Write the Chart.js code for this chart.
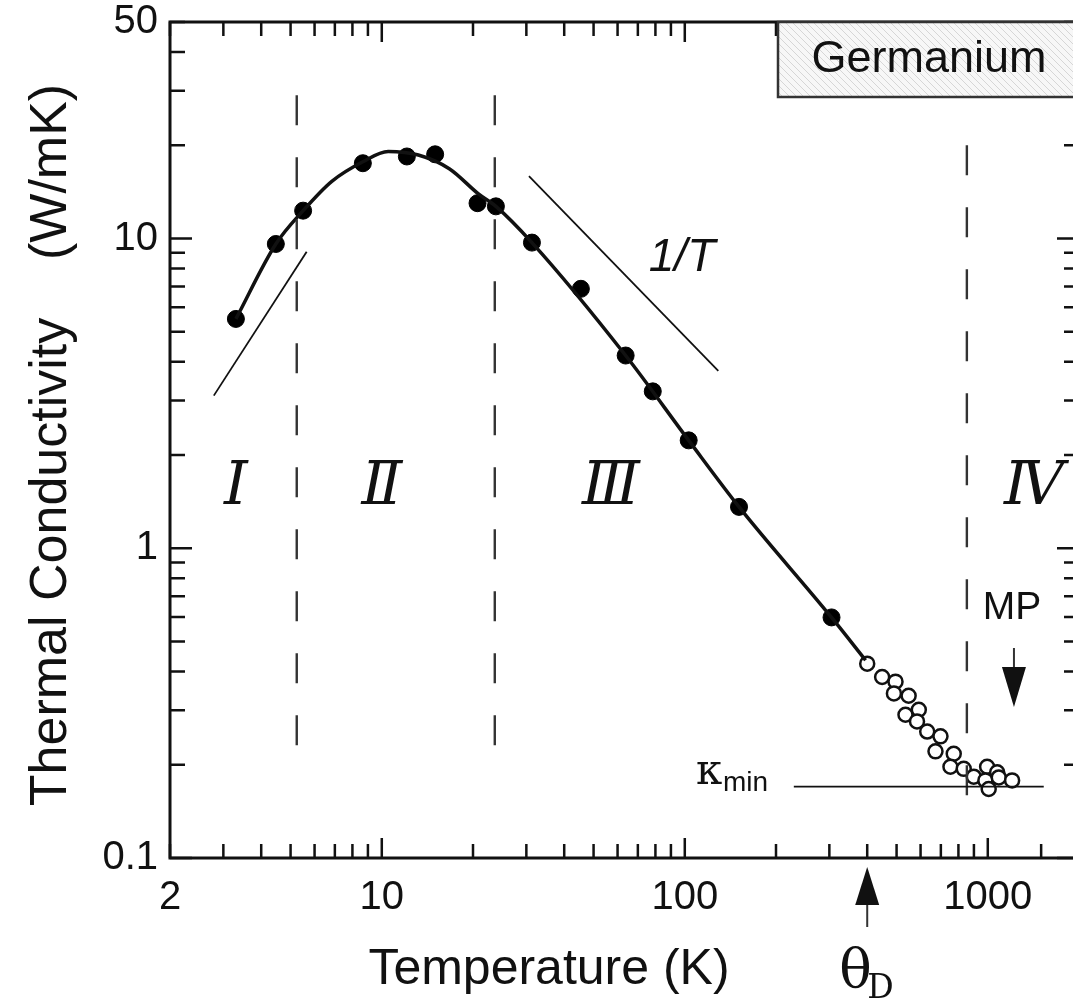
<!DOCTYPE html>
<html>
<head>
<meta charset="utf-8">
<script src="https://cdn.jsdelivr.net/npm/chart.js@4.4.1/dist/chart.umd.min.js"></script>
<style>
	html, body { margin: 0; padding: 0; background: #fff; overflow: hidden; }
	canvas { display: block; }
</style>
</head>
<body>
<!-- a little wider than the window: the right edge of the frame runs just past the picture, as in the original -->
<canvas id="germanium-chart" width="1081" height="998"></canvas>
<script>
/*jshint esversion: 6 */

// measured points, filled circles (low temperature data)
const filledT = [ 3.3, 4.47, 5.5, 8.66, 12.1, 15.0, 20.7, 23.8, 31.3, 45.4, 63.8, 78.4, 103, 151, 305 ];
const filledK = [ 5.5, 9.6, 12.3, 17.5, 18.4, 18.7, 13.0, 12.7, 9.7, 6.88, 4.19, 3.21, 2.23, 1.36, 0.598 ];

// measured points, open circles (high temperature data)
const openT = [ 400, 448, 496, 548, 490, 592, 535, 584, 631, 698, 672, 772, 753, 833, 899, 995, 1074, 982, 1007, 1087, 1203 ];
const openK = [ 0.424, 0.384, 0.371, 0.334, 0.340, 0.301, 0.290, 0.276, 0.256, 0.247, 0.221, 0.217, 0.197, 0.194, 0.183, 0.197, 0.189, 0.178, 0.167, 0.182, 0.178 ];

// the drawn fit curve
const fitT = [ 3.3, 4.47, 5.5, 6.84, 8.66, 10.5, 13.2, 16.7, 20.9, 23.8, 31.3, 63.8, 103, 151, 305, 395 ];
const fitK = [ 5.5, 9.6, 12.3, 15.3, 17.7, 19.1, 18.6, 16.8, 13.9, 12.7, 9.7, 4.19, 2.23, 1.36, 0.598, 0.435 ];

// guide lines
const lowSlopeT = [ 2.79, 5.65 ];
const lowSlopeK = [ 3.11, 9.06 ];
const invTT = [ 30.6, 129 ];
const invTK = [ 15.9, 3.74 ];
const kminT = [ 229, 1530 ];
const kminK = [ 0.170, 0.170 ];

// dashed region boundaries
const boundaryT = [ 5.24, 23.6, 853 ];
const boundaryTop = [ 29, 29, 20 ];
const boundaryBottom = [ 0.21, 0.21, 0.144 ];

// axes
const xRange = [ 2, 2000 ];
const yRange = [ 0.1, 50 ];
const xTickLabels = [ 2, 10, 100, 1000 ];
const xExtraTicks = [ 1500 ];
const yTickLabels = [ 0.1, 1, 10, 50 ];

const regionNames = [ 'Ⅰ', 'Ⅱ', 'Ⅲ', 'Ⅳ' ];
const regionT = [ 3.3, 10, 57, 1420 ];
const debyeT = 400;
const meltT = 1220;

const SANS = '"Liberation Sans", Arial, Helvetica, sans-serif';
const SERIF = '"DejaVu Serif", "Liberation Serif", serif';

const pairs = ( xs, ys ) => xs.map( ( v, i ) => ( { x: v, y: ys[ i ] } ) );

const logTicks = ( lo, hi ) => {
	const out = [];
	for ( let e = Math.floor( Math.log10( lo ) ); e <= Math.ceil( Math.log10( hi ) ); e++ ) {
		for ( let m = 1; m < 10; m++ ) {
			const v = m * Math.pow( 10, e );
			if ( v >= lo * 0.999 && v <= hi * 1.001 ) {
				out.push( v );
			}
		}
	}
	return out;
};

const isIn = ( list, v ) => list.some( ( l ) => Math.abs( v / l - 1 ) < 1e-6 );
const isDecade = ( v ) => Math.abs( Math.log10( v ) - Math.round( Math.log10( v ) ) ) < 1e-6;

const hatch = ( () => {
	const c = document.createElement( 'canvas' );
	c.width = 7;
	c.height = 7;
	const p = c.getContext( '2d' );
	p.fillStyle = '#f7f7f7';
	p.fillRect( 0, 0, 7, 7 );
	p.strokeStyle = '#d6d6d6';
	p.lineWidth = 1;
	p.beginPath();
	p.moveTo( -1, -1 );
	p.lineTo( 8, 8 );
	p.stroke();
	return p.createPattern( c, 'repeat' );
} )();

const arrow = ( ctx, x, yFrom, yTip, headLen, headHalf ) => {
	const dir = yTip > yFrom ? 1 : -1;
	ctx.beginPath();
	ctx.moveTo( x, yFrom );
	ctx.lineTo( x, yTip - dir * headLen );
	ctx.stroke();
	ctx.beginPath();
	ctx.moveTo( x, yTip );
	ctx.lineTo( x - headHalf, yTip - dir * headLen );
	ctx.lineTo( x + headHalf, yTip - dir * headLen );
	ctx.closePath();
	ctx.fill();
};

const frameAndNotes = {
	id: 'frameAndNotes',
	afterDatasetsDraw( chart ) {
		const { ctx, chartArea: a, scales: { x, y } } = chart;
		ctx.save();
		ctx.strokeStyle = '#111';
		ctx.fillStyle = '#111';

		// frame
		ctx.lineWidth = 3;
		ctx.strokeRect( a.left, a.top, a.right - a.left, a.bottom - a.top );

		// inward ticks on all four sides
		ctx.lineWidth = 2.5;
		ctx.beginPath();
		x.ticks.forEach( ( t ) => {
			const px = x.getPixelForValue( t.value );
			const len = isDecade( t.value ) ? 20 : 14;
			ctx.moveTo( px, a.bottom );
			ctx.lineTo( px, a.bottom - len );
			ctx.moveTo( px, a.top );
			ctx.lineTo( px, a.top + len );
		} );
		y.ticks.forEach( ( t ) => {
			const py = y.getPixelForValue( t.value );
			const len = isDecade( t.value ) ? 22 : 15;
			ctx.moveTo( a.left, py );
			ctx.lineTo( a.left + len, py );
			ctx.moveTo( a.right, py );
			ctx.lineTo( a.right - len, py );
		} );
		ctx.stroke();

		// sample label box
		ctx.fillStyle = hatch;
		ctx.fillRect( 778, a.top, 310, 75 );
		ctx.strokeStyle = '#333';
		ctx.lineWidth = 2.5;
		ctx.strokeRect( 778, a.top, 310, 75 );
		ctx.fillStyle = '#111';
		ctx.font = '45px ' + SANS;
		ctx.textAlign = 'center';
		ctx.textBaseline = 'middle';
		ctx.fillText( 'Germanium', 929, a.top + 38 );

		// region numerals
		ctx.font = 'italic 60px ' + SERIF;
		regionNames.forEach( ( n, i ) => {
			ctx.fillText( n, x.getPixelForValue( regionT[ i ] ), 488 );
		} );

		// 1/T
		ctx.font = 'italic 46px ' + SANS;
		ctx.fillText( '1/T', 682, 258 );

		// MP marker
		const mpX = x.getPixelForValue( meltT );
		ctx.font = '39px ' + SANS;
		ctx.fillText( 'MP', mpX - 2, 608 );
		ctx.lineWidth = 2;
		arrow( ctx, mpX, 648, 707, 40, 12 );

		// kappa min
		ctx.textAlign = 'left';
		ctx.textBaseline = 'alphabetic';
		ctx.font = '42px ' + SERIF;
		ctx.fillText( 'κ', 696, 784 );
		ctx.font = '28px ' + SANS;
		ctx.fillText( 'min', 723, 791 );

		// Debye temperature marker below the axis
		const dX = x.getPixelForValue( debyeT );
		arrow( ctx, dX, 927, 867, 38, 12 );
		ctx.font = '54px ' + SERIF;
		ctx.fillText( 'θ', dX - 28, 987 );
		ctx.font = '33px ' + SERIF;
		ctx.fillText( 'D', dX, 998 );

		// axis titles
		ctx.textAlign = 'center';
		ctx.font = '50px ' + SANS;
		ctx.fillText( 'Temperature (K)', 549, 984 );
		ctx.save();
		ctx.translate( 66, 445 );
		ctx.rotate( -Math.PI / 2 );
		ctx.font = '52px ' + SANS;
		ctx.fillText( 'Thermal Conductivity    (W/mK)', 0, 0 );
		ctx.restore();

		ctx.restore();
	}
};

const lineSet = ( xs, ys, width, extra ) => Object.assign( {
	data: pairs( xs, ys ),
	showLine: true,
	borderColor: '#111',
	borderWidth: width,
	pointRadius: 0,
	fill: false,
}, extra || {} );

const datasets = [
	lineSet( lowSlopeT, lowSlopeK, 1.8 ),
	lineSet( invTT, invTK, 1.8 ),
	lineSet( kminT, kminK, 1.8 ),
];
boundaryT.forEach( ( t, i ) => {
	datasets.push( lineSet( [ t, t ], [ boundaryTop[ i ], boundaryBottom[ i ] ], 2.4, { borderDash: [ 30, 32 ], borderColor: '#333' } ) );
} );
datasets.push( lineSet( fitT, fitK, 3.5, { cubicInterpolationMode: 'monotone' } ) );
datasets.push( {
	data: pairs( filledT, filledK ),
	pointRadius: 8.5,
	pointBackgroundColor: '#000',
	pointBorderColor: '#000',
	pointBorderWidth: 1,
} );
datasets.push( {
	data: pairs( openT, openK ),
	pointRadius: 7,
	pointBackgroundColor: '#fff',
	pointBorderColor: '#111',
	pointBorderWidth: 2.5,
} );

// no automatic label overhang, the plot frame sits where the padding says
const noOverhang = ( s ) => {
	s.paddingLeft = 0;
	s.paddingRight = 0;
	s.paddingTop = 0;
	s.paddingBottom = 0;
};

const ctx = document.getElementById( 'germanium-chart' ).getContext( '2d' );
const chart = new Chart( ctx, {
	type: 'scatter',
	data: { datasets: datasets },
	options: {
		responsive: false,
		animation: false,
		events: [],
		layout: { autoPadding: false, padding: { top: 22, right: 2, left: 0, bottom: 0 } },
		plugins: {
			legend: { display: false },
			tooltip: { enabled: false },
		},
		scales: {
			x: {
				type: 'logarithmic',
				min: xRange[ 0 ],
				max: xRange[ 1 ],
				border: { display: false },
				grid: { display: false, drawTicks: false },
				afterBuildTicks: ( s ) => {
					const vals = logTicks( xRange[ 0 ], xRange[ 1 ] ).concat( xExtraTicks ).sort( ( p, q ) => p - q );
					s.ticks = vals.map( ( v ) => ( { value: v } ) );
				},
				afterFit: ( s ) => { s.height = 140; noOverhang( s ); },
				ticks: {
					autoSkip: false,
					maxRotation: 0,
					padding: 16,
					color: '#111',
					font: { family: SANS, size: 40 },
					callback: ( v ) => ( isIn( xTickLabels, v ) ? String( v ) : '' ),
				},
			},
			y: {
				type: 'logarithmic',
				min: yRange[ 0 ],
				max: yRange[ 1 ],
				border: { display: false },
				grid: { display: false, drawTicks: false },
				afterBuildTicks: ( s ) => {
					s.ticks = logTicks( yRange[ 0 ], yRange[ 1 ] ).map( ( v ) => ( { value: v } ) );
				},
				afterFit: ( s ) => { s.width = 170; noOverhang( s ); },
				ticks: {
					autoSkip: false,
					padding: 12,
					color: '#111',
					font: { family: SANS, size: 40 },
					callback: ( v ) => ( isIn( yTickLabels, v ) ? String( Math.round( v * 10 ) / 10 ) : '' ),
				},
			},
		},
	},
	plugins: [ frameAndNotes ],
} );
</script>
</body>
</html>
